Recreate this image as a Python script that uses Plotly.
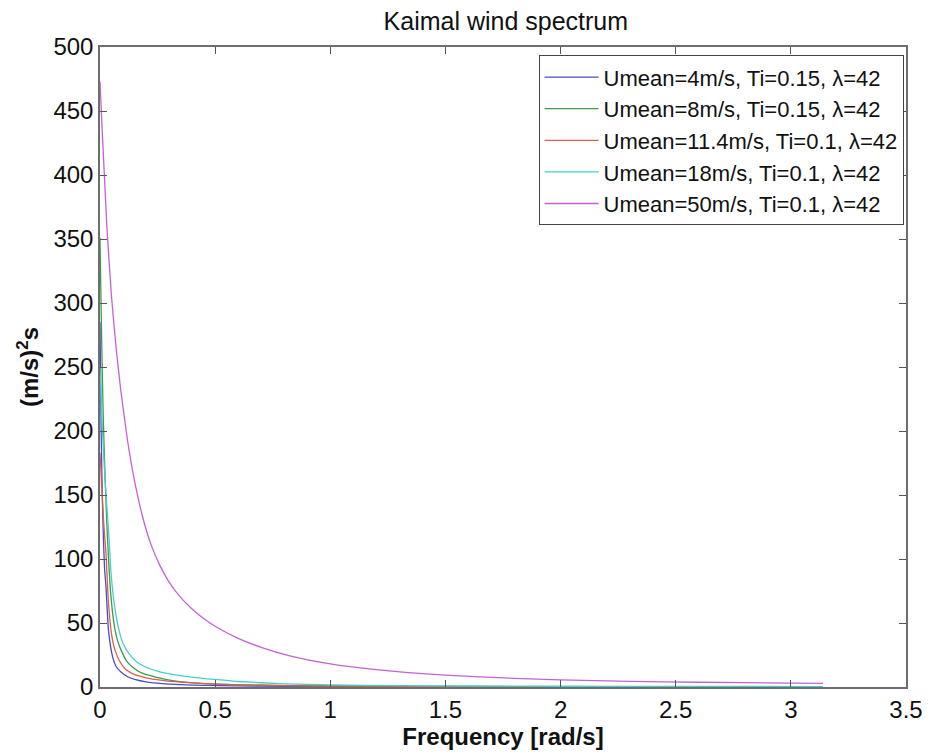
import plotly.graph_objects as go

# ---------------- data ----------------
title_text = "Kaimal wind spectrum"
x_title = "Frequency [rad/s]"
y_title = "<b>(m/s)<sup>2</sup>s</b>"

x_tick_vals = [0, 0.5, 1, 1.5, 2, 2.5, 3, 3.5]
x_tick_text = ["0", "0.5", "1", "1.5", "2", "2.5", "3", "3.5"]
y_tick_vals = [0, 50, 100, 150, 200, 250, 300, 350, 400, 450, 500]

names = [
    "Umean=4m/s, Ti=0.15, λ=42",
    "Umean=8m/s, Ti=0.15, λ=42",
    "Umean=11.4m/s, Ti=0.1, λ=42",
    "Umean=18m/s, Ti=0.1, λ=42",
    "Umean=50m/s, Ti=0.1, λ=42",
]
colors = ["#4b4bcf", "#3f9a4a", "#d9604f", "#45cfc9", "#c363cf"]

u4_x = [0, 0.005, 0.01, 0.015, 0.02, 0.026, 0.037, 0.055, 0.07, 0.091, 0.12,
        0.155, 0.2, 0.27, 0.35, 0.457, 0.6, 0.8, 1.0, 1.14]
u4_y = [285, 200, 150, 115, 92, 78, 44, 23.4, 16, 11.7, 8,
        5.7, 4, 2.6, 1.8, 1.3, 0.9, 0.6, 0.45, 0.38]

u8_x = [0, 0.005, 0.01, 0.015, 0.02, 0.028, 0.037, 0.047, 0.062, 0.075, 0.091,
        0.115, 0.141, 0.18, 0.241, 0.33, 0.457, 0.6, 0.8, 1.0, 1.28]
u8_y = [351, 295, 245, 205, 175, 135, 100, 72, 48, 37, 29,
        20.5, 15.6, 11, 7.8, 4.6, 2.6, 1.7, 1.1, 0.8, 0.55]

u11_x = [0, 0.005, 0.01, 0.015, 0.02, 0.026, 0.037, 0.052, 0.065, 0.083, 0.11,
         0.141, 0.2, 0.27, 0.35, 0.457, 0.6, 0.8, 1.0, 1.3, 1.6, 1.97]
u11_y = [183, 165, 148, 132, 118, 104, 65, 39, 29, 20.9, 14,
         10.4, 7.2, 5.2, 3.8, 2.6, 1.7, 1.1, 0.8, 0.55, 0.4, 0.3]

u18_x = [0, 0.005, 0.01, 0.02, 0.03, 0.04, 0.047, 0.062, 0.083, 0.1, 0.126,
         0.16, 0.198, 0.26, 0.34, 0.457, 0.5, 0.6, 0.8, 1.0, 1.3, 1.6, 2.0,
         2.5, 3.14]
u18_y = [250, 225, 203, 168, 140, 114.6, 91, 65, 44, 34, 26,
         19.5, 15.6, 11.8, 9.1, 6.5, 6.0, 4.3, 2.5, 1.6, 1.1, 0.8, 0.6,
         0.45, 0.35]

u50_x = [0, 0.01, 0.02, 0.03, 0.05, 0.07, 0.09, 0.12, 0.15, 0.185, 0.22, 0.26,
         0.3, 0.35, 0.4, 0.45, 0.5, 0.6, 0.7, 0.82, 1.0, 1.2, 1.5, 1.8, 2.0,
         2.3, 2.6, 3.0, 3.14]
u50_y = [473, 433, 396, 359, 305, 265, 232, 192, 161, 133, 112, 95,
         82, 70, 61, 53.5, 47.5, 38, 31, 24.5, 18, 13.5, 9.2, 6.8, 5.5,
         4.4, 3.7, 3.1, 2.9]

series_x = [u4_x, u8_x, u11_x, u18_x, u50_x]
series_y = [u4_y, u8_y, u11_y, u18_y, u50_y]

# ---------------- figure ----------------
FONT = "Liberation Sans, Arial, Helvetica, sans-serif"

fig = go.Figure()
for xs, ys, nm, col in zip(series_x, series_y, names, colors):
    fig.add_trace(go.Scatter(x=xs, y=ys, mode="lines", name=nm,
                             line=dict(color=col, width=1.3,
                                       shape="spline", smoothing=0.5)))

axis_common = dict(
    showgrid=False, zeroline=False, showline=True, linecolor="#6e6e6e",
    linewidth=1.5, mirror="ticks", ticks="inside", ticklen=7,
    tickcolor="#555555", tickwidth=1,
    tickfont=dict(family=FONT, size=24, color="#111111"),
)

fig.update_layout(
    width=935, height=756,
    margin=dict(l=100, r=23, t=47, b=69),
    paper_bgcolor="white", plot_bgcolor="white",
    font=dict(family=FONT, color="#111111"),
    title=dict(text=title_text, x=0.541, xanchor="center", y=0.972,
               yanchor="middle", yref="container",
               font=dict(family=FONT, size=25, color="#111111")),
    xaxis=dict(range=[0, 3.5], tickvals=x_tick_vals, ticktext=x_tick_text,
               title=dict(text="<b>" + x_title + "</b>", standoff=3,
                          font=dict(family=FONT, size=24, color="#111111")),
               **axis_common),
    yaxis=dict(range=[0, 500], tickvals=y_tick_vals,
               title=dict(text=y_title, standoff=8,
                          font=dict(family=FONT, size=24, color="#111111")),
               **axis_common),
    legend=dict(x=0.997, y=0.987, xanchor="right", yanchor="top",
                bgcolor="white", bordercolor="#444444", borderwidth=1,
                font=dict(family=FONT, size=22, color="#111111"),
                itemwidth=54, tracegroupgap=0),
    showlegend=True,
)

fig.write_html("out.html")
